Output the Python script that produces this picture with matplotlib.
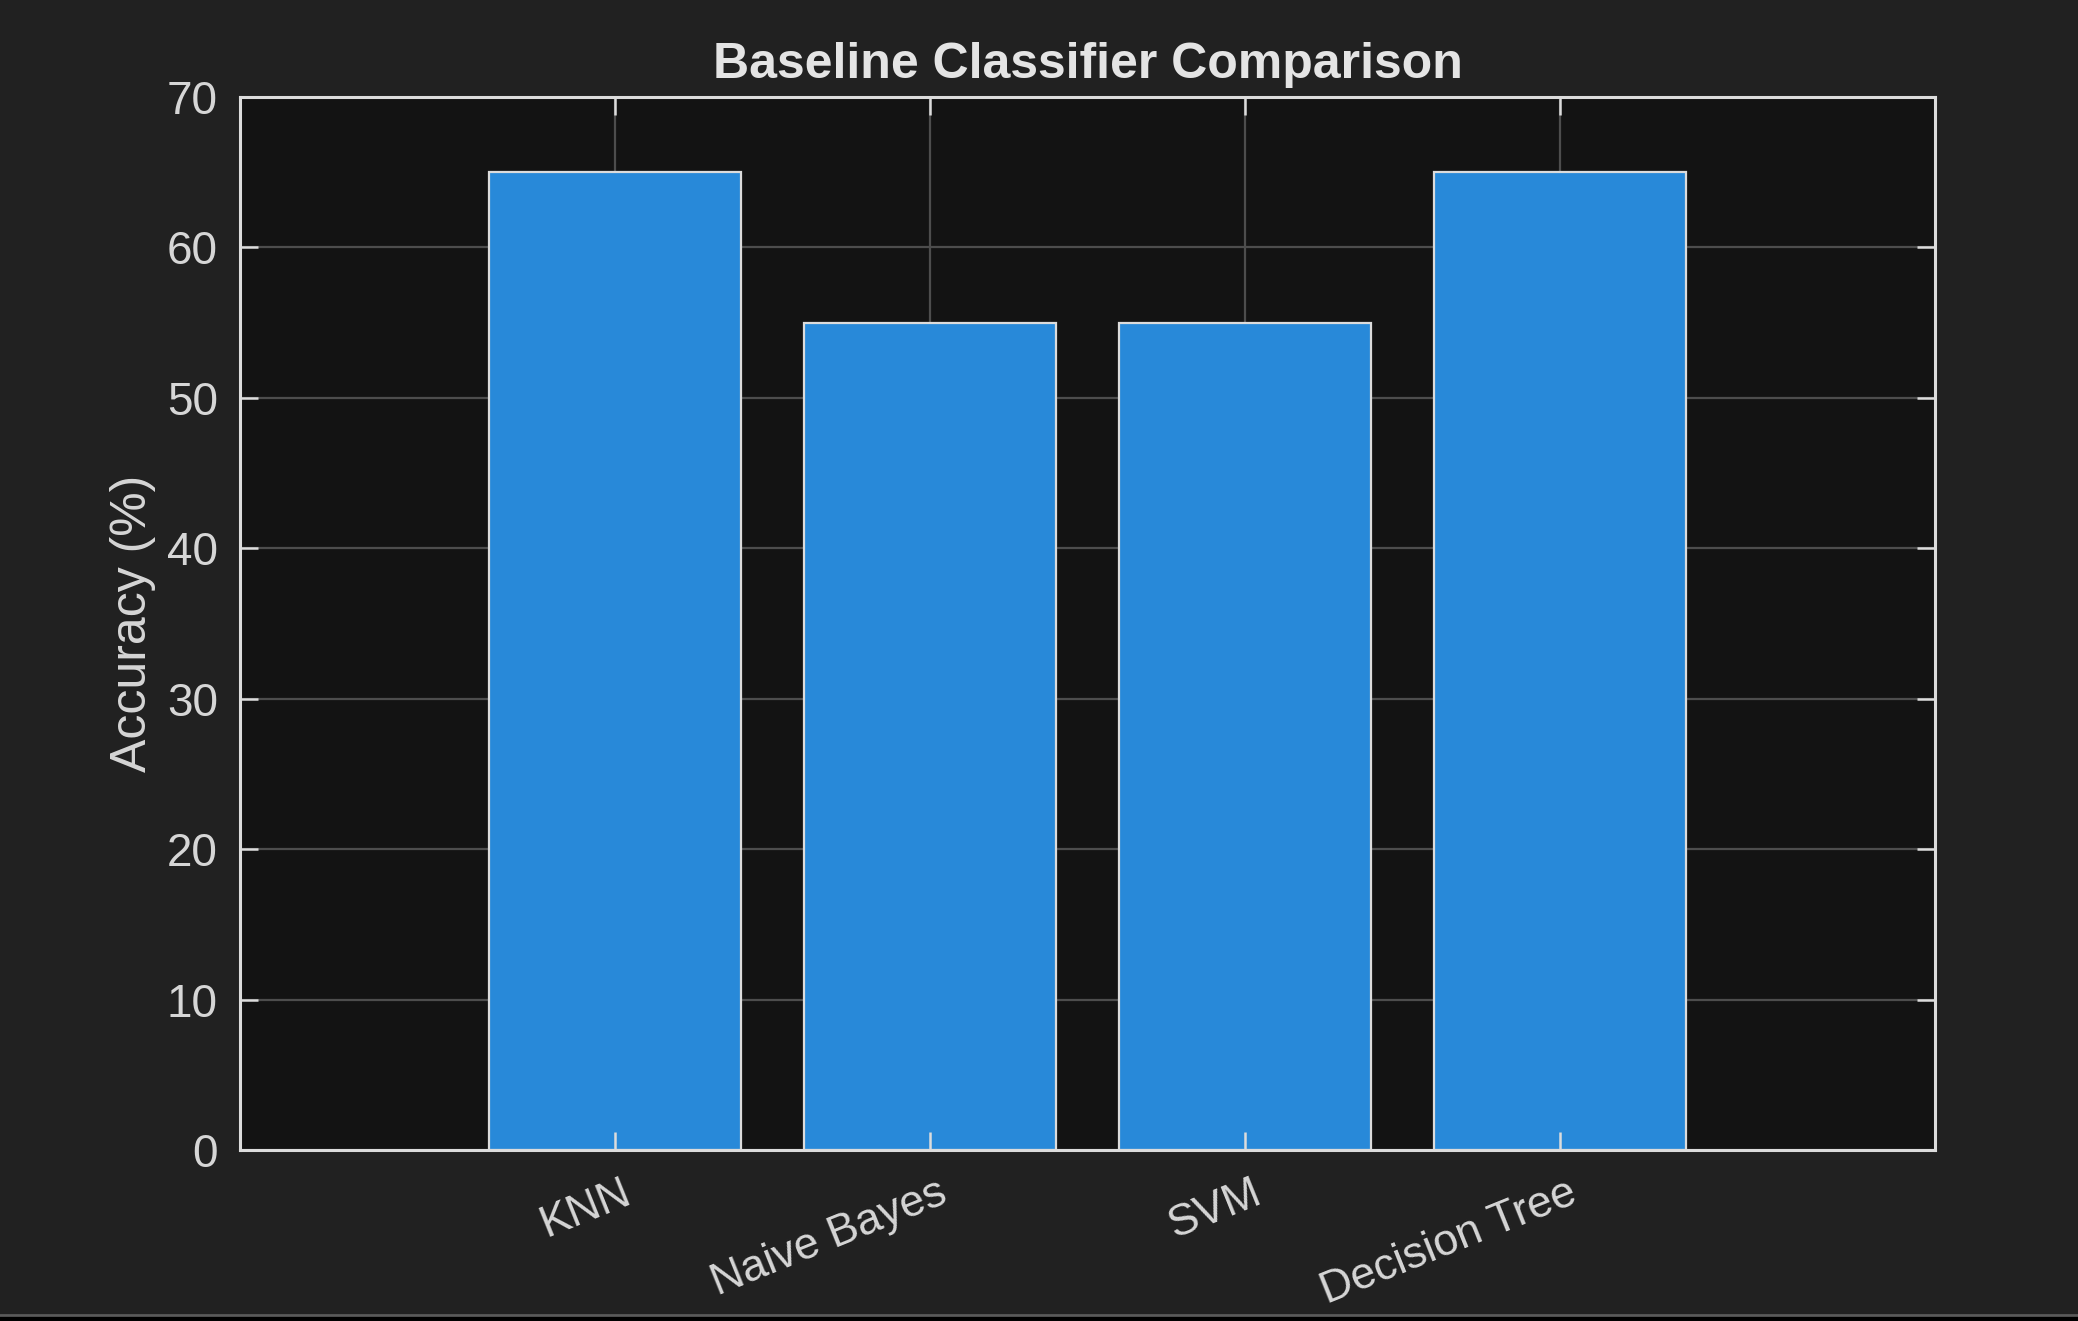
import matplotlib
matplotlib.use("Agg")
import matplotlib.pyplot as plt
import matplotlib.transforms as mtransforms
from matplotlib.lines import Line2D

categories = ["KNN", "Naive Bayes", "SVM", "Decision Tree"]
accuracy = [65, 55, 55, 65]
yticks = [0, 10, 20, 30, 40, 50, 60, 70]

plt.rcParams['font.family'] = ['Liberation Sans', 'DejaVu Sans']

FIG_BG = '#212121'
AX_BG = '#131313'
TXT = '#d6d6d6'
EDGE = '#dcdcdc'
BAR = '#2889d9'
GRID = '#4d4d4d'

fig = plt.figure(figsize=(10.39, 6.605), dpi=200, facecolor=FIG_BG)
pos = [0.1155, 0.1294, 0.8157, 0.7972]
ax = fig.add_axes(pos)
ax.set_facecolor(AX_BG)

x = list(range(1, len(categories) + 1))
ax.bar(x, accuracy, width=0.8, color=BAR, edgecolor=EDGE, linewidth=0.8, zorder=2)

ax.set_xlim(-0.19, 5.19)
ax.set_ylim(0, 70)
ax.set_xticks(x)
ax.set_yticks(yticks)
ax.set_axisbelow(True)
ax.grid(True, color=GRID, linewidth=0.8)

ax.tick_params(axis='both', which='both', length=0, colors=TXT)
ax.tick_params(axis='y', pad=8, labelsize=16.5)
ax.tick_params(axis='x', pad=8, labelsize=16)
ax.set_xticklabels(categories, rotation=22, ha='right', va='top', rotation_mode='anchor')
offset = mtransforms.ScaledTranslation(2.5 / 72, 0, fig.dpi_scale_trans)
for lbl in ax.get_xticklabels():
    lbl.set_transform(lbl.get_transform() + offset)
for s in ax.spines.values():
    s.set_visible(False)

ax.set_ylabel("Accuracy (%)", color=TXT, fontsize=18, labelpad=4)
ax.set_title("Baseline Classifier Comparison", color='#e4e4e4', fontsize=18,
             fontweight='bold', pad=7)

# overlay axes for ticks and box drawn above the bars
ax2 = fig.add_axes(pos, sharex=ax, sharey=ax)
ax2.patch.set_visible(False)
ax2.grid(False)
ax2.tick_params(axis='both', which='both', direction='in', length=6.5, width=0.9,
                color=EDGE, top=True, right=True, bottom=True, left=True,
                labelbottom=False, labelleft=False, labeltop=False, labelright=False)
for s in ax2.spines.values():
    s.set_color(EDGE)
    s.set_linewidth(1.1)

# bottom border of the window
fig.add_artist(Line2D([0, 1], [0.0045, 0.0045], transform=fig.transFigure,
                      color='#5a5a5a', linewidth=1.0))
fig.add_artist(Line2D([0, 1], [0.0012, 0.0012], transform=fig.transFigure,
                      color='#000000', linewidth=1.5))

fig.savefig("out.png", dpi=200, facecolor=FIG_BG)
